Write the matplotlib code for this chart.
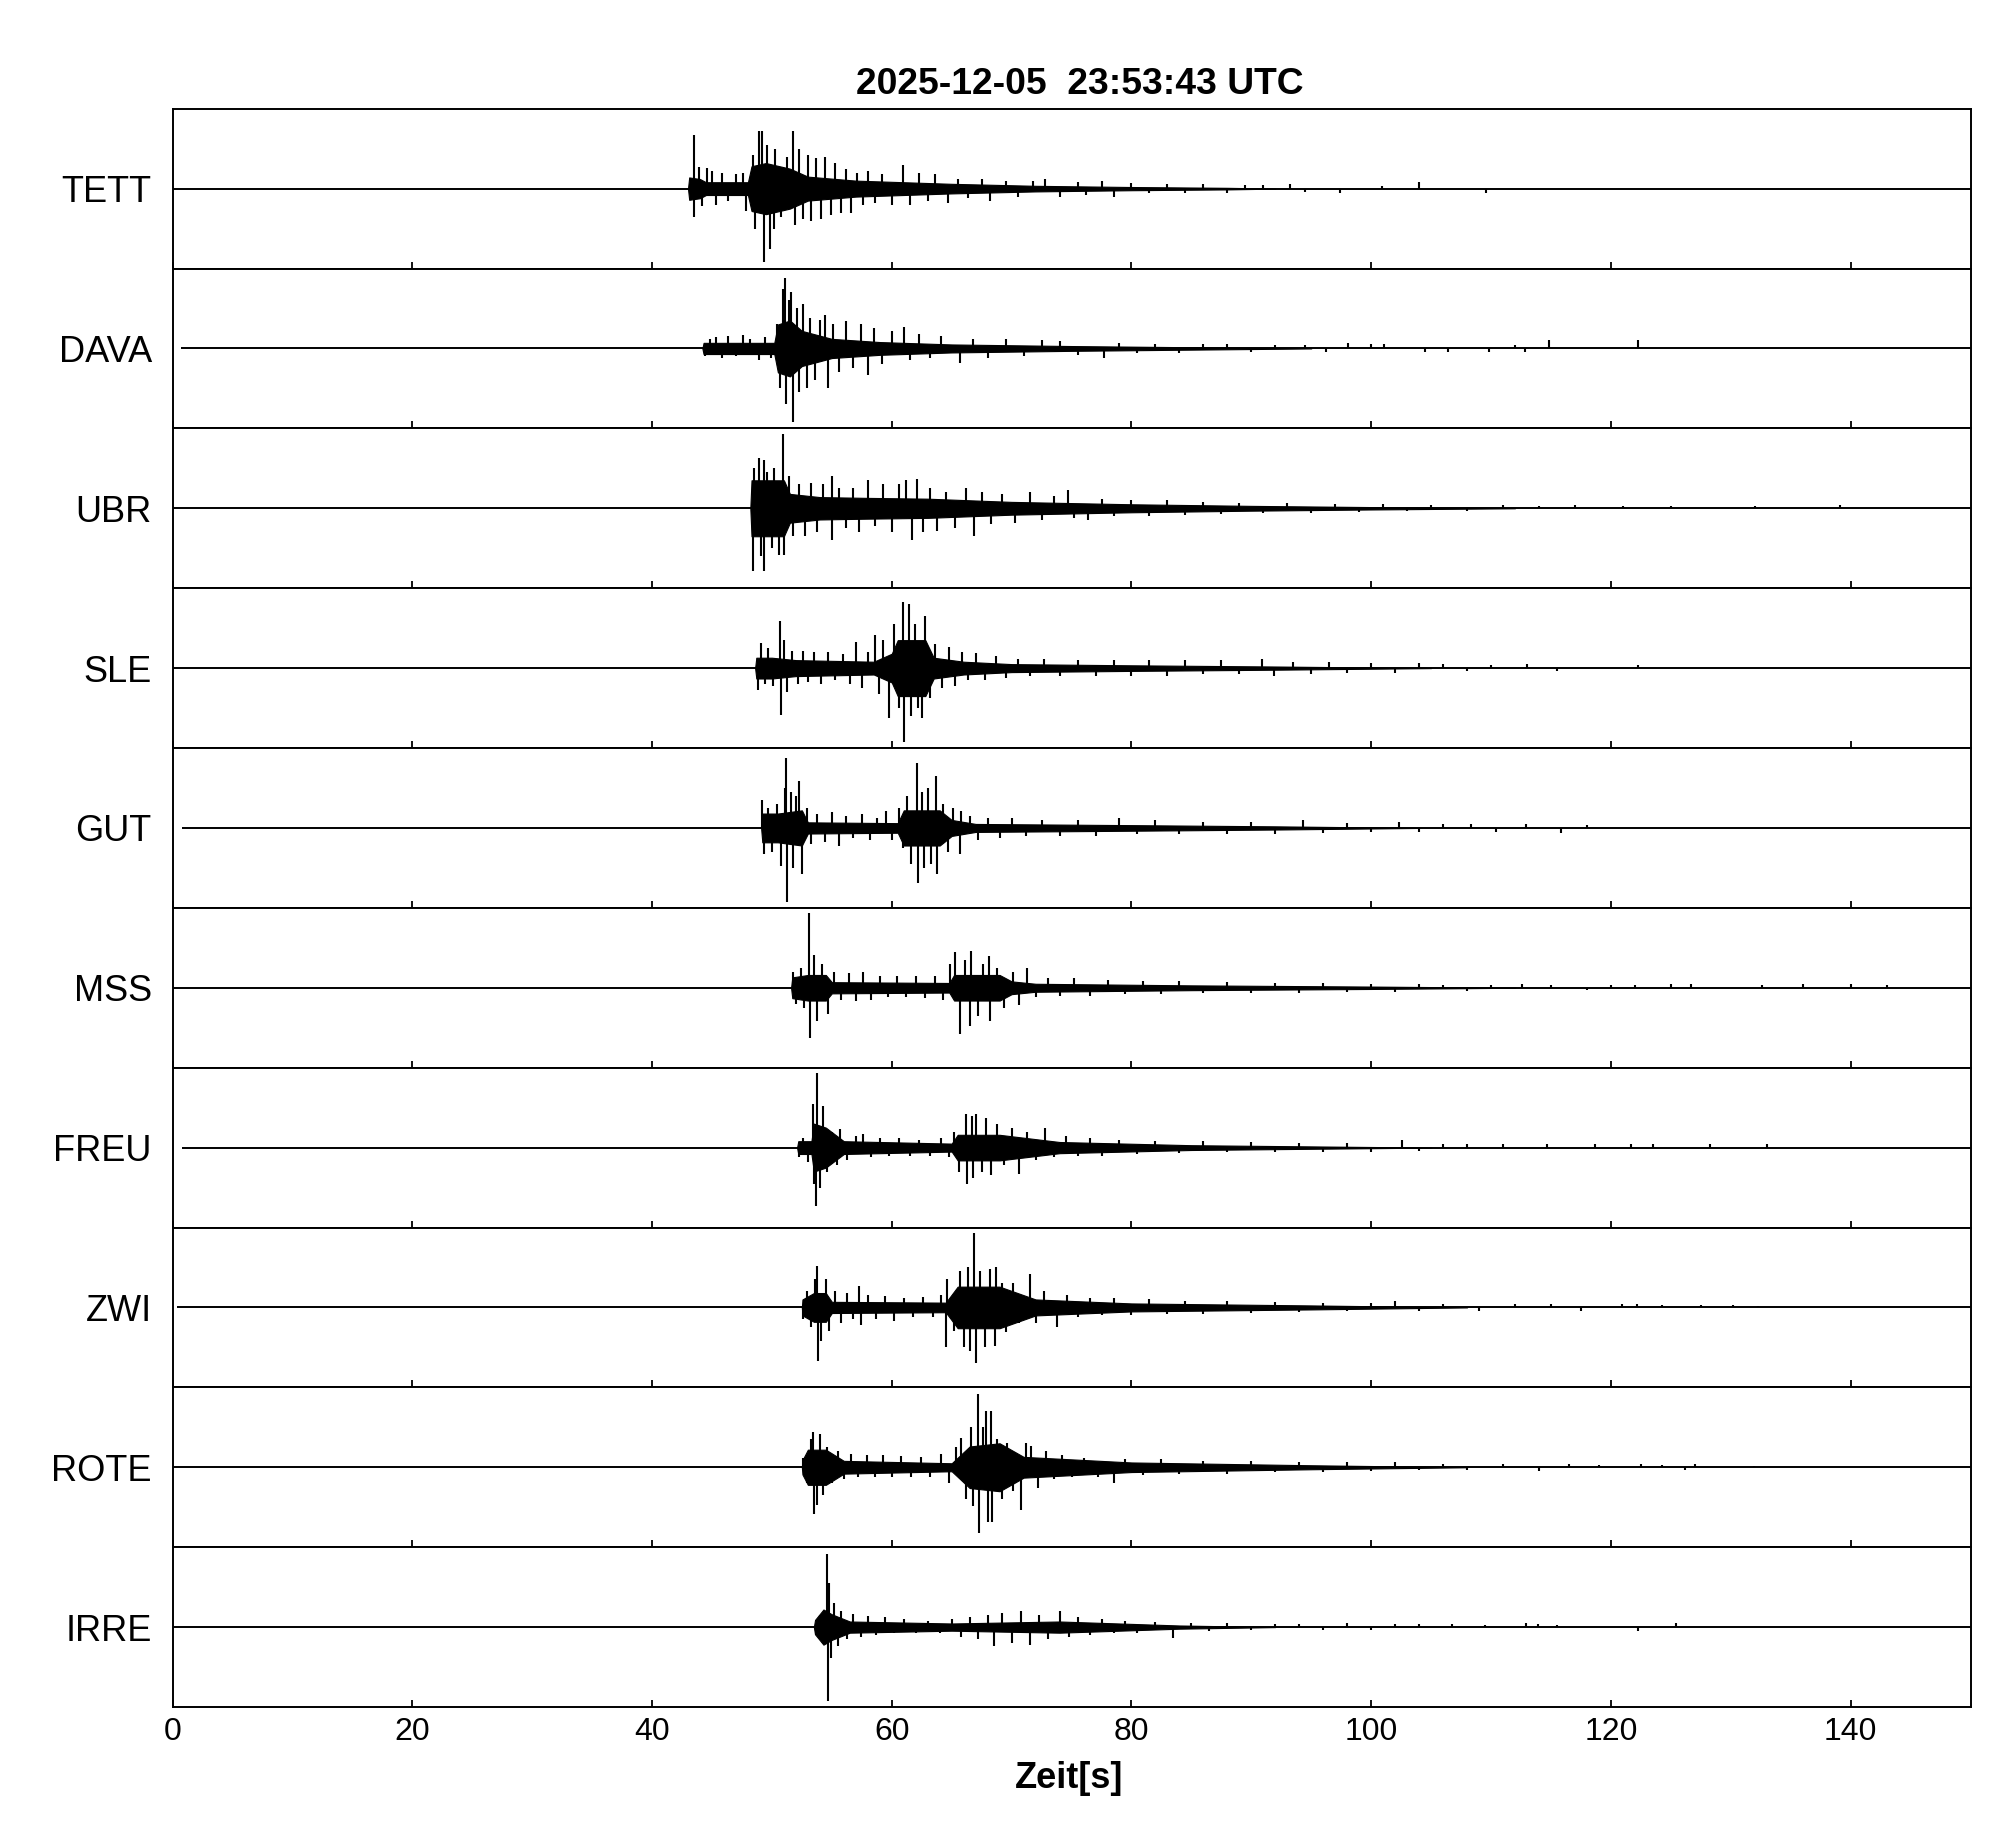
import numpy as np
import matplotlib
matplotlib.use("Agg")
import matplotlib.pyplot as plt

plt.rcParams['font.family'] = ['Liberation Sans', 'DejaVu Sans']

title = "2025-12-05  23:53:43 UTC"
xlabel = "Zeit[s]"
stations = ["TETT", "DAVA", "UBR", "SLE", "GUT", "MSS", "FREU", "ZWI", "ROTE", "IRRE"]
trace_start = [0.0, 0.7, 0.0, 0.0, 0.75, 0.0, 0.75, 0.35, 0.0, 0.0]
trace_end = 150.0
x_ticks = [0, 20, 40, 60, 80, 100, 120, 140]

# ---- dense core envelope of each trace (time s, half-amplitude, panel half-height = 1)
TETT_core_t = [43.0, 43.1, 44.0, 44.5, 48.0, 48.3, 49.5, 51.5, 53.0, 57.0, 65.0, 72.0, 80.0, 88.0, 92.0]
TETT_core_a = [0, 0.14, 0.12, 0.08, 0.08, 0.28, 0.32, 0.25, 0.15, 0.1, 0.06, 0.035, 0.02, 0.01, 0]
DAVA_core_t = [44.2, 44.3, 50.2, 50.5, 51.5, 52.5, 55, 59, 65, 75, 85, 95]
DAVA_core_a = [0, 0.07, 0.07, 0.3, 0.35, 0.22, 0.12, 0.08, 0.05, 0.03, 0.015, 0]
UBR_core_t = [48.2, 48.3, 51.0, 51.5, 54, 58, 63, 70, 80, 90, 100, 112]
UBR_core_a = [0, 0.35, 0.35, 0.18, 0.14, 0.13, 0.12, 0.08, 0.05, 0.03, 0.015, 0]
SLE_core_t = [48.6, 48.7, 50.0, 52.0, 58.5, 60.0, 60.5, 62.8, 63.5, 66, 70, 80, 92, 105]
SLE_core_a = [0, 0.13, 0.13, 0.1, 0.08, 0.18, 0.35, 0.35, 0.13, 0.08, 0.05, 0.035, 0.02, 0]
GUT_core_t = [49.1, 49.2, 50.5, 52.5, 53.0, 60.5, 61.0, 64.0, 65, 67, 80, 92, 104]
GUT_core_a = [0, 0.18, 0.18, 0.22, 0.07, 0.06, 0.22, 0.22, 0.1, 0.05, 0.035, 0.02, 0]
MSS_core_t = [51.6, 51.7, 53.0, 54.5, 55.0, 64.8, 65.2, 69.0, 70, 72, 85, 100, 112]
MSS_core_a = [0, 0.13, 0.16, 0.16, 0.07, 0.06, 0.16, 0.16, 0.08, 0.05, 0.03, 0.015, 0]
FREU_core_t = [52.1, 52.2, 53.3, 53.5, 54.5, 56, 65, 65.5, 69, 74, 85, 95, 105]
FREU_core_a = [0, 0.08, 0.08, 0.3, 0.25, 0.08, 0.05, 0.16, 0.16, 0.07, 0.03, 0.015, 0]
ZWI_core_t = [52.5, 52.55, 53.5, 54.5, 55, 64.5, 65.5, 69, 72, 80, 95, 108]
ZWI_core_a = [0, 0.1, 0.18, 0.18, 0.07, 0.06, 0.26, 0.26, 0.1, 0.05, 0.025, 0]
ROTE_core_t = [52.5, 52.55, 53.0, 54.5, 56, 65, 66.5, 69, 71, 80, 95, 108]
ROTE_core_a = [0, 0.09, 0.22, 0.22, 0.08, 0.05, 0.26, 0.3, 0.13, 0.06, 0.025, 0]
IRRE_core_t = [53.5, 53.6, 54.3, 55, 56.5, 65, 74, 78, 84, 92]
IRRE_core_a = [0, 0.09, 0.22, 0.16, 0.07, 0.045, 0.07, 0.05, 0.02, 0]

# ---- individual excursions (time s, signed peak amplitude)
TETT_spk_t = [43.5, 43.5, 43.9, 44.2, 44.6, 45.0, 45.3, 45.8, 46.3, 47.0, 47.6, 47.8, 48.4, 48.6, 48.9, 49.2, 49.3, 49.6, 49.8, 50.2, 50.3, 50.8, 51.3, 51.8, 51.9, 52.3, 52.6, 53.0, 53.3, 53.7, 54.1, 54.4, 54.9, 55.3, 55.8, 56.2, 56.6, 57.1, 57.6, 58.0, 58.6, 59.2, 60.0, 60.9, 61.5, 62.3, 63.0, 63.6, 64.7, 65.5, 66.4, 67.5, 68.2, 69.5, 70.5, 71.8, 72.8, 74.0, 75.5, 76.2, 77.5, 78.5, 80.0, 81.5, 83.0, 84.5, 86.0, 88.0, 89.5, 91.0, 93.2, 94.5, 97.4, 100.9, 104.0, 109.6]
TETT_spk_v = [0.67, -0.35, 0.27, -0.22, 0.26, 0.22, -0.2, 0.2, -0.16, 0.18, 0.2, -0.28, 0.42, -0.5, 0.72, 0.72, -0.92, 0.55, -0.75, -0.5, 0.5, -0.35, 0.4, 0.72, -0.46, 0.5, -0.38, 0.42, -0.4, 0.38, -0.38, 0.4, -0.33, 0.32, -0.3, 0.25, -0.3, 0.2, -0.2, 0.22, -0.18, 0.18, -0.2, 0.3, -0.2, 0.2, -0.15, 0.18, -0.18, 0.12, -0.12, 0.12, -0.15, 0.1, -0.1, 0.1, 0.12, -0.1, 0.08, -0.08, 0.09, -0.1, 0.07, -0.06, 0.06, -0.05, 0.06, -0.05, 0.05, 0.04, 0.06, -0.04, -0.05, 0.03, 0.08, -0.06]
DAVA_spk_t = [44.4, 44.8, 45.3, 45.8, 46.3, 47.0, 47.6, 48.2, 48.9, 49.4, 49.9, 50.4, 50.7, 50.9, 51.1, 51.2, 51.4, 51.6, 51.8, 52.1, 52.3, 52.6, 52.9, 53.2, 53.6, 54.0, 54.4, 54.7, 55.1, 55.6, 56.2, 56.8, 57.4, 58.0, 58.5, 59.2, 60.0, 61.0, 61.5, 62.3, 63.2, 64.1, 65.7, 66.8, 68.0, 69.5, 71.0, 72.5, 74.0, 75.5, 77.7, 79.0, 80.5, 82.0, 84.0, 86.0, 88.0, 90.0, 92.0, 94.5, 96.2, 98.1, 100.0, 101.1, 104.5, 106.4, 109.8, 112.0, 112.8, 114.8, 122.3]
DAVA_spk_v = [-0.1, 0.12, 0.14, -0.12, 0.15, -0.1, 0.17, 0.12, -0.15, 0.14, -0.12, 0.3, -0.5, 0.75, 0.88, -0.7, 0.6, 0.71, -0.92, 0.5, -0.55, 0.56, -0.5, 0.38, -0.4, 0.35, 0.42, -0.5, 0.3, -0.3, 0.34, -0.25, 0.3, -0.33, 0.25, -0.2, 0.22, 0.27, -0.15, 0.18, -0.12, 0.15, -0.18, 0.12, -0.12, 0.12, -0.1, 0.1, 0.09, -0.08, -0.12, 0.07, -0.06, 0.06, -0.06, 0.05, 0.05, -0.05, 0.04, 0.04, -0.04, 0.07, 0.06, 0.06, -0.05, -0.04, -0.04, 0.04, -0.04, 0.1, 0.1]
UBR_spk_t = [48.4, 48.5, 48.9, 49.1, 49.3, 49.35, 49.6, 50.0, 50.2, 50.6, 50.9, 51.0, 51.4, 51.8, 52.3, 52.8, 53.3, 53.8, 54.3, 55.0, 55.05, 55.6, 56.2, 56.8, 57.3, 58.0, 58.6, 59.3, 60.0, 60.6, 61.2, 61.7, 62.1, 62.6, 63.2, 63.8, 64.5, 65.3, 66.2, 66.9, 67.5, 68.3, 69.2, 70.3, 71.5, 72.5, 73.5, 74.7, 75.2, 76.4, 77.5, 78.5, 80.0, 81.5, 83.0, 84.5, 86.0, 87.5, 89.0, 91.0, 93.0, 95.0, 97.0, 99.0, 101.0, 103.0, 105.0, 108.0, 111.0, 114.0, 117.0, 121.0, 125.0, 132.0, 139.1]
UBR_spk_v = [-0.78, 0.5, 0.63, -0.6, -0.78, 0.6, 0.45, -0.5, 0.5, -0.58, 0.93, -0.58, 0.4, -0.35, 0.3, -0.35, 0.32, -0.3, 0.3, 0.4, -0.4, 0.25, -0.25, 0.25, -0.3, 0.35, -0.22, 0.3, -0.3, 0.3, 0.35, -0.4, 0.37, -0.3, 0.25, -0.28, 0.2, -0.25, 0.25, -0.35, 0.2, -0.2, 0.18, -0.18, 0.2, -0.15, 0.15, 0.23, -0.12, -0.15, 0.12, -0.1, 0.1, -0.1, 0.1, -0.08, 0.08, -0.07, 0.07, -0.06, 0.06, -0.06, 0.05, -0.05, 0.05, -0.04, 0.04, -0.04, 0.04, 0.03, 0.04, 0.03, 0.03, 0.03, 0.04]
SLE_spk_t = [48.8, 49.1, 49.4, 49.7, 50.1, 50.7, 50.75, 51.0, 51.3, 51.7, 52.2, 52.6, 53.0, 53.5, 54.1, 54.7, 55.3, 55.9, 56.5, 57.0, 57.5, 58.0, 58.6, 58.9, 59.3, 59.8, 60.2, 60.6, 60.9, 61.0, 61.4, 61.6, 61.9, 62.2, 62.5, 62.8, 63.2, 63.6, 64.2, 64.8, 65.3, 65.9, 66.4, 67.0, 67.8, 68.7, 69.5, 70.5, 71.5, 72.7, 74.0, 75.5, 77.0, 78.5, 80.0, 81.5, 83.0, 84.5, 86.0, 87.5, 89.0, 90.9, 91.9, 93.5, 95.0, 96.5, 98.0, 100.0, 102.0, 104.0, 106.0, 108.0, 110.0, 113.0, 115.5, 122.3]
SLE_spk_v = [-0.27, 0.31, -0.2, 0.25, -0.22, 0.59, -0.59, 0.35, -0.3, 0.22, -0.2, 0.22, -0.18, 0.2, -0.2, 0.2, -0.15, 0.18, -0.2, 0.33, -0.25, 0.2, 0.42, -0.33, 0.35, -0.63, 0.55, -0.5, 0.83, -0.92, 0.8, -0.6, 0.55, -0.5, -0.63, 0.65, -0.37, 0.3, -0.25, 0.27, -0.22, 0.2, -0.15, 0.19, -0.15, 0.15, -0.12, 0.12, -0.1, 0.12, -0.1, 0.1, -0.1, 0.1, -0.1, 0.1, -0.1, 0.1, -0.08, 0.1, -0.08, 0.12, -0.1, 0.08, -0.07, 0.08, -0.06, 0.07, -0.06, 0.06, 0.05, -0.04, 0.04, 0.05, -0.04, 0.04]
GUT_spk_t = [49.2, 49.3, 49.7, 50.0, 50.4, 50.8, 51.1, 51.2, 51.25, 51.6, 51.8, 52.0, 52.3, 52.5, 52.9, 53.3, 53.8, 54.4, 55.0, 55.6, 56.2, 56.8, 57.5, 58.2, 58.8, 59.5, 60.0, 60.6, 60.9, 61.3, 61.6, 62.1, 62.15, 62.5, 62.7, 63.0, 63.3, 63.7, 63.8, 64.3, 64.7, 65.1, 65.7, 65.8, 66.5, 67.2, 68.0, 69.0, 70.0, 71.2, 72.5, 74.0, 75.5, 77.0, 79.0, 80.5, 82.0, 84.0, 86.0, 88.0, 90.0, 92.0, 94.3, 96.0, 98.0, 100.0, 102.3, 104.0, 106.0, 108.3, 110.4, 112.9, 115.8, 118.0]
GUT_spk_v = [0.35, -0.33, 0.25, -0.3, 0.3, -0.48, 0.5, 0.88, -0.93, 0.45, -0.5, 0.4, 0.59, -0.58, 0.25, -0.2, 0.18, -0.18, 0.2, -0.23, 0.15, -0.12, 0.18, -0.15, 0.12, 0.21, -0.15, 0.25, -0.25, 0.4, -0.45, 0.81, -0.69, 0.45, -0.5, 0.5, -0.45, 0.65, -0.58, 0.3, -0.3, 0.25, -0.33, 0.21, 0.15, -0.15, 0.12, -0.12, 0.12, -0.1, 0.1, -0.1, 0.1, -0.1, 0.12, -0.08, 0.1, -0.08, 0.08, -0.08, 0.08, -0.07, 0.1, -0.06, 0.06, -0.05, 0.08, -0.05, 0.05, 0.05, -0.05, 0.05, -0.06, 0.04]
MSS_spk_t = [51.8, 52.0, 52.4, 52.7, 53.1, 53.15, 53.5, 53.8, 54.2, 54.7, 55.2, 55.8, 56.4, 57.0, 57.6, 58.3, 59.0, 59.7, 60.4, 61.2, 62.0, 62.8, 63.6, 64.3, 64.9, 65.3, 65.7, 66.1, 66.5, 66.6, 67.2, 67.6, 68.1, 68.2, 68.8, 69.4, 70.1, 70.6, 71.3, 72.0, 73.0, 74.0, 75.2, 76.5, 78.0, 79.5, 81.0, 82.5, 84.0, 86.0, 88.0, 90.0, 92.0, 94.0, 96.0, 98.0, 100.0, 102.0, 104.0, 106.0, 108.0, 110.0, 112.6, 115.0, 118.0, 120.0, 122.0, 125.0, 126.7, 132.6, 136.0, 140.0, 143.0]
MSS_spk_v = [0.2, -0.2, 0.25, -0.25, 0.93, -0.63, 0.41, -0.41, 0.3, -0.33, 0.2, -0.15, 0.18, -0.17, 0.2, -0.15, 0.15, -0.12, 0.15, -0.12, 0.15, -0.13, 0.15, -0.15, 0.3, 0.45, -0.58, 0.35, -0.48, 0.46, -0.35, 0.3, 0.4, -0.42, 0.25, -0.25, 0.2, -0.21, 0.25, -0.12, 0.12, -0.1, 0.12, -0.1, 0.1, -0.08, 0.08, -0.08, 0.08, -0.07, 0.07, -0.06, 0.06, -0.06, 0.06, -0.05, 0.05, -0.05, 0.05, 0.04, -0.04, 0.04, 0.05, 0.04, -0.03, 0.04, 0.04, 0.05, 0.05, 0.04, 0.05, 0.05, 0.04]
FREU_spk_t = [52.3, 52.6, 53.0, 53.4, 53.5, 53.7, 53.8, 54.0, 54.3, 54.6, 55.0, 55.4, 55.7, 56.3, 57.0, 57.6, 58.3, 59.0, 59.8, 60.6, 61.5, 62.3, 63.2, 64.1, 64.8, 65.2, 65.6, 66.2, 66.3, 66.7, 66.8, 67.0, 67.5, 67.9, 68.3, 68.8, 69.4, 70.0, 70.6, 71.3, 72.0, 72.8, 73.5, 74.5, 75.5, 76.5, 77.5, 79.0, 80.5, 82.0, 84.0, 86.0, 88.0, 90.0, 92.0, 94.0, 96.0, 98.0, 100.0, 102.6, 104.0, 106.0, 108.0, 111.0, 114.7, 118.7, 121.7, 123.5, 128.3, 133.0]
FREU_spk_v = [-0.12, 0.12, -0.18, 0.54, -0.45, -0.73, 0.93, -0.5, 0.52, -0.3, 0.2, -0.22, 0.23, -0.15, 0.14, 0.17, -0.12, 0.12, -0.1, 0.12, -0.1, 0.1, -0.1, 0.12, -0.12, 0.2, -0.3, 0.42, -0.45, 0.4, -0.375, 0.42, -0.3, 0.375, -0.34, 0.3, -0.22, 0.25, -0.33, 0.2, -0.15, 0.25, -0.12, 0.15, -0.1, 0.12, -0.1, 0.1, -0.08, 0.08, -0.07, 0.08, -0.06, 0.07, -0.06, 0.06, -0.05, 0.06, -0.05, 0.1, -0.04, 0.04, 0.04, 0.04, 0.04, 0.04, 0.04, 0.04, 0.04, 0.04]
ZWI_spk_t = [52.6, 52.9, 53.3, 53.6, 53.8, 53.85, 54.1, 54.5, 54.8, 55.3, 55.8, 56.3, 56.8, 57.3, 57.4, 58.0, 58.7, 59.4, 60.2, 61.0, 61.8, 62.6, 63.4, 64.1, 64.5, 64.6, 65.2, 65.7, 66.0, 66.4, 66.5, 66.9, 67.0, 67.4, 67.8, 68.2, 68.6, 68.7, 69.2, 69.5, 70.1, 70.6, 71.5, 72.0, 72.7, 73.8, 74.6, 75.5, 76.5, 77.5, 78.5, 80.0, 81.5, 83.0, 84.5, 86.0, 88.0, 90.0, 92.0, 94.0, 96.0, 98.0, 100.0, 102.0, 104.0, 106.0, 109.0, 112.0, 115.0, 117.5, 120.9, 122.2, 124.3, 127.5, 130.2, 132.3]
ZWI_spk_v = [-0.15, 0.2, -0.25, 0.35, 0.52, -0.67, -0.42, 0.35, -0.3, 0.2, -0.2, 0.18, -0.15, 0.27, -0.22, 0.15, -0.15, 0.14, -0.17, 0.12, -0.12, 0.13, -0.12, 0.15, -0.49, 0.35, -0.3, 0.45, -0.5, 0.5, -0.54, 0.93, -0.69, 0.45, -0.5, 0.48, -0.48, 0.5, 0.3, -0.31, 0.3, -0.2, 0.42, -0.2, 0.2, -0.25, 0.15, -0.12, 0.12, -0.1, 0.12, -0.1, 0.1, -0.08, 0.08, -0.08, 0.08, -0.07, 0.07, -0.06, 0.06, -0.05, 0.05, 0.08, -0.05, 0.04, -0.04, 0.04, 0.04, -0.04, 0.04, 0.04, 0.03, 0.03, 0.03, 0.02]
ROTE_spk_t = [52.6, 52.9, 53.3, 53.4, 53.5, 53.8, 54.0, 54.3, 54.6, 55.0, 55.5, 56.0, 56.6, 57.2, 57.9, 58.6, 59.3, 60.0, 60.8, 61.6, 62.4, 63.2, 64.1, 64.8, 65.4, 65.8, 66.2, 66.6, 66.8, 67.2, 67.25, 67.6, 67.9, 68.0, 68.3, 68.4, 68.8, 69.2, 69.6, 70.1, 70.8, 71.2, 71.6, 72.2, 72.9, 73.5, 74.2, 75.0, 76.0, 77.2, 78.5, 79.5, 81.0, 82.5, 84.0, 86.0, 88.0, 90.0, 92.0, 94.0, 96.0, 98.0, 100.0, 102.0, 104.0, 106.0, 108.0, 111.0, 114.0, 116.5, 119.0, 122.5, 124.3, 126.2, 127.0, 131.9]
ROTE_spk_v = [0.12, -0.2, 0.35, 0.44, -0.58, -0.47, 0.42, -0.35, 0.25, -0.2, 0.2, -0.15, 0.17, -0.12, 0.15, -0.12, 0.15, -0.12, 0.14, -0.12, 0.13, -0.12, 0.16, -0.2, 0.25, 0.36, -0.4, 0.5, -0.49, 0.92, -0.82, 0.5, 0.7, -0.68, 0.7, -0.68, 0.35, -0.4, 0.3, -0.3, -0.53, 0.3, 0.26, -0.26, 0.2, -0.15, 0.15, -0.12, 0.12, -0.12, -0.2, 0.1, -0.1, 0.1, -0.08, 0.08, -0.08, 0.08, -0.06, 0.06, -0.06, 0.06, -0.05, 0.06, -0.04, 0.04, -0.04, 0.04, -0.05, 0.04, 0.03, 0.04, 0.03, -0.03, 0.04, 0.02]
IRRE_spk_t = [53.7, 54.0, 54.3, 54.6, 54.7, 54.8, 54.9, 55.2, 55.5, 55.8, 56.3, 56.8, 57.4, 58.0, 58.7, 59.4, 60.2, 61.0, 62.0, 63.0, 64.0, 65.0, 65.8, 66.5, 67.2, 68.0, 68.5, 69.2, 70.0, 70.8, 71.5, 72.3, 73.0, 74.0, 74.8, 75.5, 76.5, 77.5, 78.5, 79.5, 80.5, 82.0, 83.5, 85.0, 86.5, 88.0, 90.0, 92.0, 94.0, 96.0, 98.0, 100.0, 102.0, 104.0, 106.7, 109.5, 112.9, 113.9, 115.5, 122.3, 125.4]
IRRE_spk_v = [-0.1, 0.15, -0.2, 0.92, -0.92, 0.55, -0.39, 0.3, -0.24, 0.2, -0.15, 0.16, -0.12, 0.14, -0.1, 0.12, -0.08, 0.1, -0.08, 0.08, -0.08, 0.1, -0.12, 0.12, -0.15, 0.15, -0.24, 0.18, -0.2, 0.2, -0.22, 0.15, -0.15, 0.2, -0.12, 0.12, -0.1, 0.1, -0.08, 0.08, -0.07, 0.06, -0.14, 0.05, -0.05, 0.05, -0.04, 0.04, 0.04, -0.04, 0.05, -0.04, 0.04, 0.04, 0.04, 0.03, 0.05, 0.04, 0.03, -0.05, 0.05]

core_t = [TETT_core_t, DAVA_core_t, UBR_core_t, SLE_core_t, GUT_core_t, MSS_core_t, FREU_core_t, ZWI_core_t, ROTE_core_t, IRRE_core_t]
core_a = [TETT_core_a, DAVA_core_a, UBR_core_a, SLE_core_a, GUT_core_a, MSS_core_a, FREU_core_a, ZWI_core_a, ROTE_core_a, IRRE_core_a]
spk_t = [TETT_spk_t, DAVA_spk_t, UBR_spk_t, SLE_spk_t, GUT_spk_t, MSS_spk_t, FREU_spk_t, ZWI_spk_t, ROTE_spk_t, IRRE_spk_t]
spk_v = [TETT_spk_v, DAVA_spk_v, UBR_spk_v, SLE_spk_v, GUT_spk_v, MSS_spk_v, FREU_spk_v, ZWI_spk_v, ROTE_spk_v, IRRE_spk_v]

W, H = 2005, 1841
fig = plt.figure(figsize=(W / 100, H / 100), dpi=100)
axes = fig.subplots(len(stations), 1, sharex=True)
fig.subplots_adjust(left=172.6 / W, right=1970.5 / W, top=1 - 108.7 / H, bottom=1 - 1707.0 / H, hspace=0)

for i, ax in enumerate(axes):
    ax.hlines(0, trace_start[i], trace_end, color='k', lw=1.4, zorder=2)
    ct = np.array(core_t[i])
    ca = np.array(core_a[i])
    ax.fill_between(ct, -ca, ca, facecolor='k', edgecolor='k', lw=0.8, zorder=3)
    ax.vlines(spk_t[i], 0, spk_v[i], color='k', lw=1.5, zorder=3)
    ax.set_xlim(0, 150)
    ax.set_ylim(-1, 1)
    ax.set_yticks([0])
    ax.set_yticklabels([stations[i]], fontsize=26)
    ax.tick_params(axis='y', length=0, pad=15)
    ax.set_xticks(x_ticks)
    ax.tick_params(axis='x', direction='in', length=5, width=1.3, bottom=True, top=False,
                   labelsize=23, pad=7)
    for sp in ax.spines.values():
        sp.set_linewidth(1.4)
    if i < len(axes) - 1:
        ax.tick_params(axis='x', labelbottom=False)

fig.text(1080 / W, 1 - 94 / H, title, ha='center', va='baseline', fontsize=26.8, fontweight='bold')
fig.text(1069 / W, 1 - 1778 / H, xlabel, ha='center', va='center', fontsize=26, fontweight='bold')

fig.savefig("out.png", dpi=100)
